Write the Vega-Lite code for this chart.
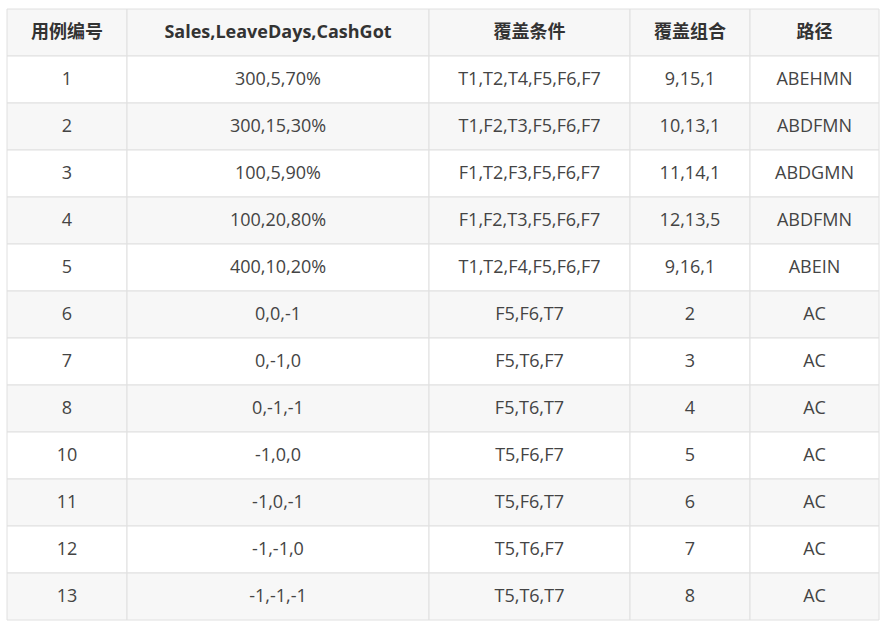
{
"$schema":"https://vega.github.io/schema/vega-lite/v6.json",
"autosize":{"type":"fit","contains":"padding"},
"width":884,"height":627,"padding":0,
"background":"white",
"config":{"view":{"stroke":null}},
"datasets":{
"cols":[{"k":"a","x0":7,"x1":127,"xc":67},{"k":"b","x0":127,"x1":429,"xc":278},{"k":"c","x0":429,"x1":630,"xc":529.5},{"k":"d","x0":630,"x1":750,"xc":690},{"k":"e","x0":750,"x1":879,"xc":814.5}],
"rows":[
{"r":0,"a":"用例编号","b":"Sales,LeaveDays,CashGot","c":"覆盖条件","d":"覆盖组合","e":"路径"},
{"r":1,"a":"1","b":"300,5,70%","c":"T1,T2,T4,F5,F6,F7","d":"9,15,1","e":"ABEHMN"},
{"r":2,"a":"2","b":"300,15,30%","c":"T1,F2,T3,F5,F6,F7","d":"10,13,1","e":"ABDFMN"},
{"r":3,"a":"3","b":"100,5,90%","c":"F1,T2,F3,F5,F6,F7","d":"11,14,1","e":"ABDGMN"},
{"r":4,"a":"4","b":"100,20,80%","c":"F1,F2,T3,F5,F6,F7","d":"12,13,5","e":"ABDFMN"},
{"r":5,"a":"5","b":"400,10,20%","c":"T1,T2,F4,F5,F6,F7","d":"9,16,1","e":"ABEIN"},
{"r":6,"a":"6","b":"0,0,-1","c":"F5,F6,T7","d":"2","e":"AC"},
{"r":7,"a":"7","b":"0,-1,0","c":"F5,T6,F7","d":"3","e":"AC"},
{"r":8,"a":"8","b":"0,-1,-1","c":"F5,T6,T7","d":"4","e":"AC"},
{"r":9,"a":"10","b":"-1,0,0","c":"T5,F6,F7","d":"5","e":"AC"},
{"r":10,"a":"11","b":"-1,0,-1","c":"T5,F6,T7","d":"6","e":"AC"},
{"r":11,"a":"12","b":"-1,-1,0","c":"T5,T6,F7","d":"7","e":"AC"},
{"r":12,"a":"13","b":"-1,-1,-1","c":"T5,T6,T7","d":"8","e":"AC"}
]},
"data":{"name":"rows"},
"transform":[
{"fold":["a","b","c","d","e"],"as":["k","t"]},
{"lookup":"k","from":{"data":{"name":"cols"},"key":"k","fields":["x0","x1","xc"]}}
],
"encoding":{
"y":{"field":"r","type":"ordinal","scale":{"range":[9,620],"paddingInner":0,"paddingOuter":0},"axis":null}
},
"layer":[
{"mark":{"type":"rect","stroke":"#e0e0e0","strokeWidth":1},
"encoding":{
"x":{"field":"x0","type":"quantitative","scale":{"domain":[0,884],"range":[0,884],"nice":false,"zero":false},"axis":null},
"x2":{"field":"x1"},
"fill":{"condition":{"test":"datum.r % 2 == 0","value":"#f7f7f7"},"value":"#ffffff"}}},
{"transform":[{"filter":"datum.r > 0"}],
"mark":{"type":"text","font":"Open Sans, Noto Sans CJK SC","fontSize":18,"align":"center","baseline":"middle","color":"#444444"},
"encoding":{"x":{"field":"xc","type":"quantitative"},"text":{"field":"t"}}},
{"transform":[{"filter":"datum.r == 0"}],
"mark":{"type":"text","font":"Open Sans, Noto Sans CJK SC","fontSize":18,"fontWeight":"bold","align":"center","baseline":"middle","color":"#333333"},
"encoding":{"x":{"field":"xc","type":"quantitative"},"text":{"field":"t"}}}
]
}
